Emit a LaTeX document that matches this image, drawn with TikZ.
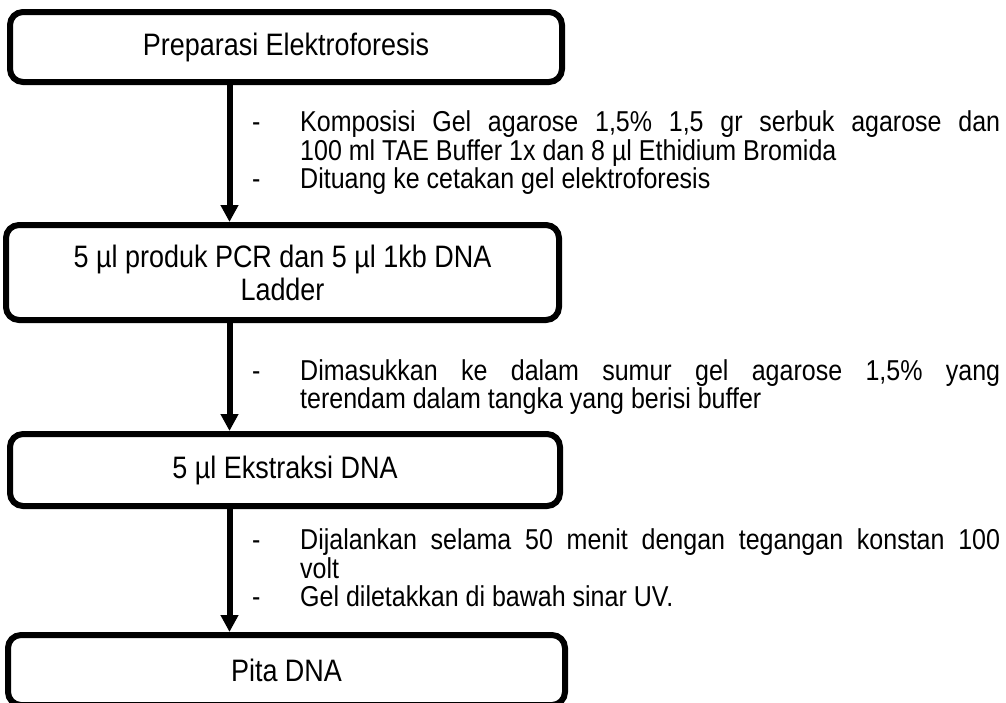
\documentclass[tikz,border=0pt]{standalone}
\usepackage{fontspec}
\setmainfont{Liberation Sans}[FakeStretch=0.87]
\usetikzlibrary{arrows.meta}
\begin{document}
\begin{tikzpicture}[x=1pt,y=-1pt,
  stepbox/.style={draw, line width=6pt, rounded corners=13pt, inner sep=0pt,
    align=center, font=\fontsize{31pt}{33pt}\selectfont},
  arr/.style={line width=6pt, -{Triangle[width=17pt,length=17pt]}},
  bul/.style={inner sep=0pt, anchor=base west, font=\fontsize{28.75pt}{28.5pt}\selectfont}]
\useasboundingbox (0,0) rectangle (1006,702);
\begin{scope}
\clip (0,0) rectangle (1006,702);
\node[stepbox, minimum width=552pt, minimum height=70pt] (b1) at (286,47) {Preparasi Elektroforesis};
\node[stepbox, minimum width=553pt, minimum height=95pt] (b2) at (282.5,272.5) {5 µl produk PCR dan 5 µl 1kb DNA\\Ladder};
\node[stepbox, minimum width=550pt, minimum height=72pt] (b3) at (285,470) {5 µl Ekstraksi DNA};
\node[stepbox, minimum width=557pt, minimum height=70pt] (b4) at (286.5,670) {Pita DNA};
\coordinate (ax) at (229.5,0);
\draw[arr] (b1.south -| ax) -- (b2.north -| ax);
\draw[arr] (b2.south -| ax) -- (b3.north -| ax);
\draw[arr] (b3.south -| ax) -- (b4.north -| ax);
% bullets of step 1
\node[bul] (d1) at (252,131.5) {-};
\node[bul] (t1a) at (300,131.5) {\makebox[700pt][s]{Komposisi Gel agarose 1,5\% 1,5 gr serbuk agarose dan}};
\node[bul] (t1b) at (300,160) {100 ml TAE Buffer 1x dan 8 µl Ethidium Bromida};
\node[bul] (d2) at (252,188.5) {-};
\node[bul] (t1c) at (300,188.5) {Dituang ke cetakan gel elektroforesis};
% bullets of step 2
\node[bul] (d3) at (252,380) {-};
\node[bul] (t2a) at (300,380) {\makebox[700pt][s]{Dimasukkan ke dalam sumur gel agarose 1,5\% yang}};
\node[bul] (t2b) at (300,408.5) {terendam dalam tangka yang berisi buffer};
% bullets of step 3
\node[bul] (d4) at (252,549.5) {-};
\node[bul] (t3a) at (300,549.5) {\makebox[700pt][s]{Dijalankan selama 50 menit dengan tegangan konstan 100}};
\node[bul] (t3b) at (300,578) {volt};
\node[bul] (d5) at (252,606.5) {-};
\node[bul] (t3c) at (300,606.5) {Gel diletakkan di bawah sinar UV.};
\end{scope}
\end{tikzpicture}
\end{document}
